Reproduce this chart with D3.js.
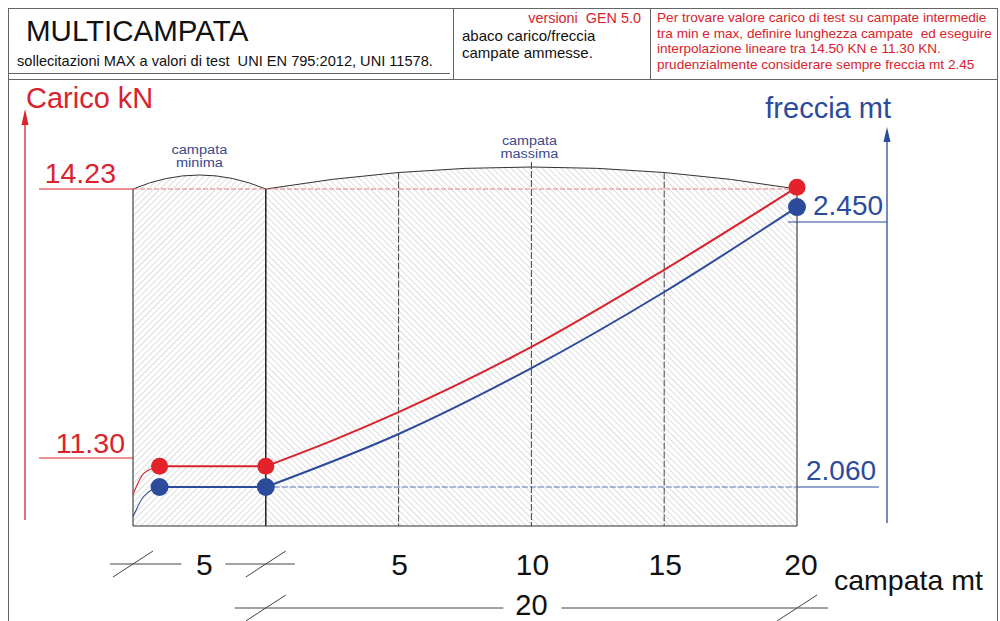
<!DOCTYPE html>
<html><head><meta charset="utf-8">
<script src="https://cdn.jsdelivr.net/npm/d3@7"></script>
<style>
body{margin:0;background:#fff}
svg{display:block;font-family:"Liberation Sans",Arial,Helvetica,sans-serif}
text{white-space:pre}
</style>
</head><body>
<svg id="c" width="1000" height="621"></svg>
<script>
// ---------------- DATA ----------------
const caricoLeadX   = [-5, -4.6, -4];
const caricoLead    = [10.90, 11.13, 11.21];
const frecciaLeadX  = [-5, -4.6, -4];
const frecciaLead   = [2.016, 2.046, 2.060];

const caricoX       = [-4, 0, 2.5, 5, 10, 15, 20];
const caricoValues  = [11.21, 11.21, 11.49, 11.80, 12.51, 13.35, 14.25];
const caricoPointX  = [-4, 0, 20];
const caricoPoints  = [11.21, 11.21, 14.25];

const frecciaX      = [-4, 0, 5, 10, 15, 20];
const frecciaValues = [2.060, 2.060, 2.138, 2.235, 2.347, 2.472];
const frecciaPointX = [-4, 0, 20];
const frecciaPoints = [2.060, 2.060, 2.472];

const caricoTicks   = [11.30, 14.23];
const caricoLabels  = ["11.30", "14.23"];
const frecciaTicks  = [2.060, 2.450];
const frecciaLabels = ["2.060", "2.450"];

const campataTicks  = [5, 10, 15, 20];
const campataLabels = ["5", "10", "15", "20"];
const minSpan       = [-5, 0];
const maxSpan       = [0, 20];
const minSpanLabel  = "5";
const maxSpanLabel  = "20";
const gridX         = [5, 10, 15];

const headerRed = [
  "Per trovare valore carico di test su campate intermedie",
  "tra min e max, definire lunghezza campate  ed eseguire",
  "interpolazione lineare tra 14.50 KN e 11.30 KN.",
  "prudenzialmente considerare sempre freccia mt 2.45"
];

// ---------------- STYLE ----------------
const RED = "#d9232d", BLUE = "#2c4b9b", DARK = "#333";
const svg = d3.select("#c");

const x  = d3.scaleLinear().domain([-5, 20]).range([133, 797]);
const yC = d3.scaleLinear().domain([11.30, 14.23]).range([458, 189]);
const yF = d3.scaleLinear().domain([2.06, 2.45]).range([487, 222]);
const boxBottom = 526;
const boxTop = yC(14.23);

// ---------------- HEADER ----------------
const hdr = svg.append("g").attr("stroke", "#666").attr("stroke-width", 1);
hdr.append("line").attr("x1", 8).attr("x2", 997).attr("y1", 8.5).attr("y2", 8.5);
hdr.append("line").attr("x1", 8).attr("x2", 997).attr("y1", 79.5).attr("y2", 79.5);
hdr.append("line").attr("x1", 8).attr("x2", 450).attr("y1", 73.5).attr("y2", 73.5);
hdr.append("line").attr("x1", 8.5).attr("x2", 8.5).attr("y1", 8).attr("y2", 621);
hdr.append("line").attr("x1", 997.5).attr("x2", 997.5).attr("y1", 8).attr("y2", 621);
hdr.append("line").attr("x1", 453.5).attr("x2", 453.5).attr("y1", 8).attr("y2", 79);
hdr.append("line").attr("x1", 650.5).attr("x2", 650.5).attr("y1", 8).attr("y2", 79);

svg.append("text").attr("x", 26).attr("y", 41).attr("font-size", 29.5).attr("fill", "#111")
  .text("MULTICAMPATA");
svg.append("text").attr("x", 17).attr("y", 66).attr("font-size", 14.6).attr("fill", "#111")
  .text("sollecitazioni MAX a valori di test  UNI EN 795:2012, UNI 11578.");
svg.append("text").attr("x", 641).attr("y", 23).attr("font-size", 14.4).attr("fill", RED)
  .attr("text-anchor", "end").text("versioni  GEN 5.0");
svg.append("text").attr("x", 462).attr("y", 41).attr("font-size", 15).attr("fill", "#111")
  .text("abaco carico/freccia");
svg.append("text").attr("x", 462).attr("y", 58).attr("font-size", 15).attr("fill", "#111")
  .text("campate ammesse.");
svg.append("g").selectAll("text").data(headerRed).join("text")
  .attr("x", 657).attr("y", (d, i) => 22 + i * 15.6).attr("font-size", 13.6).attr("fill", RED)
  .text(d => d);

// ---------------- HATCH PATTERNS ----------------
const defs = svg.append("defs");
function hatch(id, angle) {
  const p = defs.append("pattern").attr("id", id).attr("patternUnits", "userSpaceOnUse")
    .attr("width", 4.4).attr("height", 4.4).attr("patternTransform", `rotate(${angle})`);
  p.append("line").attr("x1", 0).attr("x2", 0).attr("y1", 0).attr("y2", 4.4)
    .attr("stroke", "#bdbdbd").attr("stroke-width", 1);
}
hatch("hL", 45);
hatch("hR", -45);

function arcPath(x0, x1, lift) {
  const cx = (x0 + x1) / 2;
  return `M${x0},${boxBottom} L${x0},${boxTop} Q${cx},${boxTop - 2 * lift} ${x1},${boxTop} L${x1},${boxBottom} Z`;
}
svg.append("path").attr("d", arcPath(x(minSpan[0]), x(minSpan[1]), 14))
  .attr("fill", "url(#hL)").attr("stroke", "none");
svg.append("path").attr("d", arcPath(x(maxSpan[0]), x(maxSpan[1]), 22))
  .attr("fill", "url(#hR)").attr("stroke", "none");

function arcOnly(x0, x1, lift) {
  const cx = (x0 + x1) / 2;
  return `M${x0},${boxTop} Q${cx},${boxTop - 2 * lift} ${x1},${boxTop}`;
}
svg.append("path").attr("d", arcOnly(x(-5), x(0), 14)).attr("fill", "none").attr("stroke", DARK).attr("stroke-width", 1);
svg.append("path").attr("d", arcOnly(x(0), x(20), 22)).attr("fill", "none").attr("stroke", DARK).attr("stroke-width", 1);

const box = svg.append("g").attr("stroke", DARK).attr("stroke-width", 1.1);
box.append("line").attr("x1", x(-5)).attr("x2", x(-5)).attr("y1", boxTop).attr("y2", boxBottom);
box.append("line").attr("x1", x(0)).attr("x2", x(0)).attr("y1", boxTop).attr("y2", boxBottom).attr("stroke", "#111").attr("stroke-width", 1.4);
box.append("line").attr("x1", x(20)).attr("x2", x(20)).attr("y1", boxTop).attr("y2", boxBottom);
box.append("line").attr("x1", x(-5)).attr("x2", x(20)).attr("y1", boxBottom).attr("y2", boxBottom);

const arcLift = 22;
function arcY(px) {
  const t = (px - x(0)) / (x(20) - x(0));
  return boxTop - 4 * arcLift * t * (1 - t);
}
svg.append("g").selectAll("line").data(gridX).join("line")
  .attr("x1", d => x(d)).attr("x2", d => x(d))
  .attr("y1", d => d === 10 ? arcY(x(d)) - 5 : arcY(x(d))).attr("y2", boxBottom)
  .attr("stroke", "#444").attr("stroke-width", 1).attr("stroke-dasharray", "7,2");

// ---------------- TOP LABELS ----------------
const lbl = svg.append("g").attr("fill", "#3a4a8c").attr("text-anchor", "middle");
function lab(t, cx, cy, w) {
  lbl.append("text").attr("x", cx).attr("y", cy).attr("font-size", 12)
    .attr("textLength", w).attr("lengthAdjust", "spacingAndGlyphs").text(t);
}
lab("campata", x(-2.5), 154, 56);
lab("minima", x(-2.5), 167, 47);
lab("campata", x(10) - 2, 145, 55);
lab("massima", x(10) - 2, 158, 58);

// ---------------- AXES ----------------
svg.append("text").attr("x", 26).attr("y", 108).attr("font-size", 29).attr("fill", RED).text("Carico kN");
svg.append("line").attr("x1", 25).attr("x2", 25).attr("y1", 120).attr("y2", 520).attr("stroke", RED).attr("stroke-width", 1.3);
svg.append("path").attr("d", "M25,109 L21.5,125 L28.5,125 Z").attr("fill", RED);

svg.append("text").attr("x", 891).attr("y", 118).attr("font-size", 29).attr("fill", BLUE)
  .attr("text-anchor", "end").text("freccia mt");
svg.append("line").attr("x1", 887).attr("x2", 887).attr("y1", 138).attr("y2", 523).attr("stroke", BLUE).attr("stroke-width", 1.3);
svg.append("path").attr("d", "M887,127 L883.5,142 L890.5,142 Z").attr("fill", BLUE);

caricoTicks.forEach((v, i) => {
  const yy = yC(v);
  svg.append("line").attr("x1", 39).attr("x2", x(-5)).attr("y1", yy).attr("y2", yy)
    .attr("stroke", RED).attr("stroke-width", 1.1);
  svg.append("text").attr("x", i === 0 ? 125 : 116).attr("y", i === 0 ? yy - 5 : yy - 6).attr("font-size", 28.5)
    .attr("fill", RED).attr("text-anchor", "end").text(caricoLabels[i]);
});
svg.append("line").attr("x1", x(-5)).attr("x2", x(20)).attr("y1", yC(14.23)).attr("y2", yC(14.23))
  .attr("stroke", "#ec7a80").attr("stroke-width", 1).attr("stroke-dasharray", "5,2");

frecciaTicks.forEach((v, i) => {
  const yy = yF(v);
  const x0 = i === 0 ? x(20) : x(20) - 9;
  const x1 = i === 0 ? 879 : 887;
  svg.append("line").attr("x1", x0).attr("x2", x1).attr("y1", yy).attr("y2", yy)
    .attr("stroke", BLUE).attr("stroke-width", 1.1);
  svg.append("text").attr("x", i === 0 ? 806 : 813).attr("y", yy - 7).attr("font-size", 28)
    .attr("fill", BLUE).text(frecciaLabels[i]);
});
svg.append("line").attr("x1", x(0)).attr("x2", x(20)).attr("y1", yF(2.06)).attr("y2", yF(2.06))
  .attr("stroke", "#5a70b8").attr("stroke-width", 1).attr("stroke-dasharray", "6,2");

// ---------------- SERIES ----------------
const lineC = d3.line().x(d => x(d[0])).y(d => yC(d[1]));
const lineF = d3.line().x(d => x(d[0])).y(d => yF(d[1]));
const smooth = d3.curveMonotoneX;

svg.append("path").attr("d", lineC.curve(smooth)(d3.zip(caricoLeadX, caricoLead)))
  .attr("fill", "none").attr("stroke", RED).attr("stroke-width", 1.1);
svg.append("path").attr("d", lineF.curve(smooth)(d3.zip(frecciaLeadX, frecciaLead)))
  .attr("fill", "none").attr("stroke", BLUE).attr("stroke-width", 1.1);

const cPts = d3.zip(caricoX, caricoValues);
const fPts = d3.zip(frecciaX, frecciaValues);
svg.append("path").attr("d", lineC.curve(d3.curveLinear)(cPts.filter(d => d[0] <= 0)))
  .attr("fill", "none").attr("stroke", RED).attr("stroke-width", 2);
svg.append("path").attr("d", lineC.curve(smooth)(cPts.filter(d => d[0] >= 0)))
  .attr("fill", "none").attr("stroke", RED).attr("stroke-width", 2);
svg.append("path").attr("d", lineF.curve(d3.curveLinear)(fPts.filter(d => d[0] <= 0)))
  .attr("fill", "none").attr("stroke", BLUE).attr("stroke-width", 2);
svg.append("path").attr("d", lineF.curve(smooth)(fPts.filter(d => d[0] >= 0)))
  .attr("fill", "none").attr("stroke", BLUE).attr("stroke-width", 2);

svg.append("g").selectAll("circle").data(d3.zip(caricoPointX, caricoPoints)).join("circle")
  .attr("cx", d => x(d[0])).attr("cy", d => yC(d[1])).attr("r", 8.5).attr("fill", "#e3222c");
svg.append("g").selectAll("circle").data(d3.zip(frecciaPointX, frecciaPoints)).join("circle")
  .attr("cx", d => x(d[0])).attr("cy", d => yF(d[1])).attr("r", 9).attr("fill", BLUE);

// ---------------- BOTTOM DIMENSIONS ----------------
const dim = svg.append("g").attr("stroke", "#444").attr("stroke-width", 1);
function slash(cx, cy) {
  dim.append("line").attr("x1", cx - 20).attr("y1", cy + 13).attr("x2", cx + 20).attr("y2", cy - 13);
}
const y1 = 564, y2 = 608;
const minLabelX = x(-2.5) + 5;
dim.append("line").attr("x1", x(-5) - 23).attr("x2", minLabelX - 23).attr("y1", y1).attr("y2", y1);
dim.append("line").attr("x1", minLabelX + 21).attr("x2", x(0) + 29).attr("y1", y1).attr("y2", y1);
slash(x(-5), y1); slash(x(0), y1);
const maxLabelX = x(10);
dim.append("line").attr("x1", x(0) - 31).attr("x2", maxLabelX - 28).attr("y1", y2).attr("y2", y2);
dim.append("line").attr("x1", maxLabelX + 30).attr("x2", x(20) + 31).attr("y1", y2).attr("y2", y2);
slash(x(0), y2); slash(x(20), y2);

const ax = svg.append("g").attr("fill", "#111").attr("font-size", 30).attr("text-anchor", "middle");
ax.append("text").attr("x", minLabelX).attr("y", 575).text(minSpanLabel);
ax.selectAll("text.t").data(campataTicks).join("text").attr("class", "t")
  .attr("x", d => x(d) + (d === 20 ? 4 : 1)).attr("y", 575).text((d, i) => campataLabels[i]);
ax.append("text").attr("x", maxLabelX).attr("y", 615).attr("font-size", 29).text(maxSpanLabel);
svg.append("text").attr("x", 834).attr("y", 590).attr("font-size", 28.5).attr("fill", "#111").text("campata mt");
</script>
</body></html>
